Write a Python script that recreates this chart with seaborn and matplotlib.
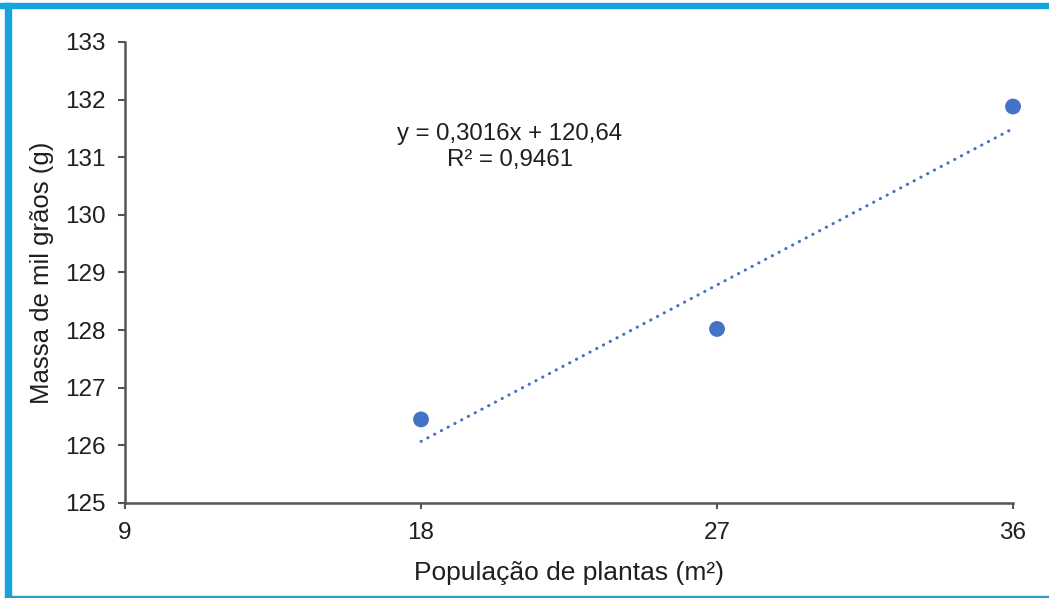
import matplotlib
matplotlib.use("Agg")
import matplotlib.pyplot as plt
from matplotlib.patches import Rectangle
import numpy as np
import pandas as pd
import seaborn as sns

# Plant population (plants per m²) and thousand-grain mass (g)
populacao = [18, 27, 36]
massa = [126.45, 128.02, 131.88]

# Fitted linear trend as reported
slope = 0.3016
intercept = 120.64
r2 = 0.9461

x_ticks = [9, 18, 27, 36]
y_ticks = [125, 126, 127, 128, 129, 130, 131, 132, 133]

sns.set_theme(style="white")
plt.rcParams["font.family"] = ["Liberation Sans", "DejaVu Sans"]

blue = "#4472C4"
axis_col = "#555555"
text_col = "#1f1f1f"

fig = plt.figure(figsize=(10.49, 5.98), dpi=100)
ax = fig.add_axes([0.1192, 0.1589, 0.8465, 0.7709])

df = pd.DataFrame({"pop": populacao, "massa": massa})
sns.scatterplot(data=df, x="pop", y="massa", ax=ax, s=130, color=blue,
                edgecolor="none", zorder=3, clip_on=False)

trend_x = np.array([populacao[0], populacao[-1]], dtype=float)
trend = pd.DataFrame({"pop": trend_x, "massa": slope * trend_x + intercept})
sns.lineplot(data=trend, x="pop", y="massa", ax=ax, color=blue, lw=2.2,
             linestyle=(0, (0.1, 2.4)), dash_capstyle="round", zorder=2,
             clip_on=False)

ax.set_xlim(9, 36)
ax.set_ylim(125, 133)
ax.set_xticks(x_ticks)
ax.set_yticks(y_ticks)
ax.tick_params(axis="both", labelsize=17.5, colors=axis_col, labelcolor=text_col,
               width=1.5)
ax.tick_params(axis="x", direction="out", length=4, pad=10, bottom=True)
ax.tick_params(axis="y", direction="out", length=5, pad=9, left=True)

for side in ["top", "right"]:
    ax.spines[side].set_visible(False)
for side in ["left", "bottom"]:
    ax.spines[side].set_color(axis_col)
    ax.spines[side].set_linewidth(1.8)

ax.set_xlabel("População de plantas (m²)", fontsize=19, color=text_col, labelpad=12)
ax.set_ylabel("Massa de mil grãos (g)", fontsize=18.5, color=text_col, labelpad=8)

eq = f"y = {slope:.4f}x + {intercept:.2f}".replace(".", ",")
r2_txt = f"R² = {r2:.4f}".replace(".", ",")
ax.text(20.7, 131.18, eq + "\n" + r2_txt, ha="center", va="center",
        multialignment="center", fontsize=17.3, color=text_col, linespacing=1.2)

# Blue frame around the figure
frame = "#16A3DE"
fig.patches.append(Rectangle((0, 1 - 8 / 598), 1, 5 / 598, transform=fig.transFigure,
                             color=frame, zorder=10))
fig.patches.append(Rectangle((5 / 1049, 0), 6 / 1049, 1 - 3 / 598,
                             transform=fig.transFigure, color=frame, zorder=10))
fig.patches.append(Rectangle((5 / 1049, 0.5 / 598), 1, 2 / 598,
                             transform=fig.transFigure, color="#2E9CC8", zorder=10))

fig.savefig("out.png", dpi=100)
